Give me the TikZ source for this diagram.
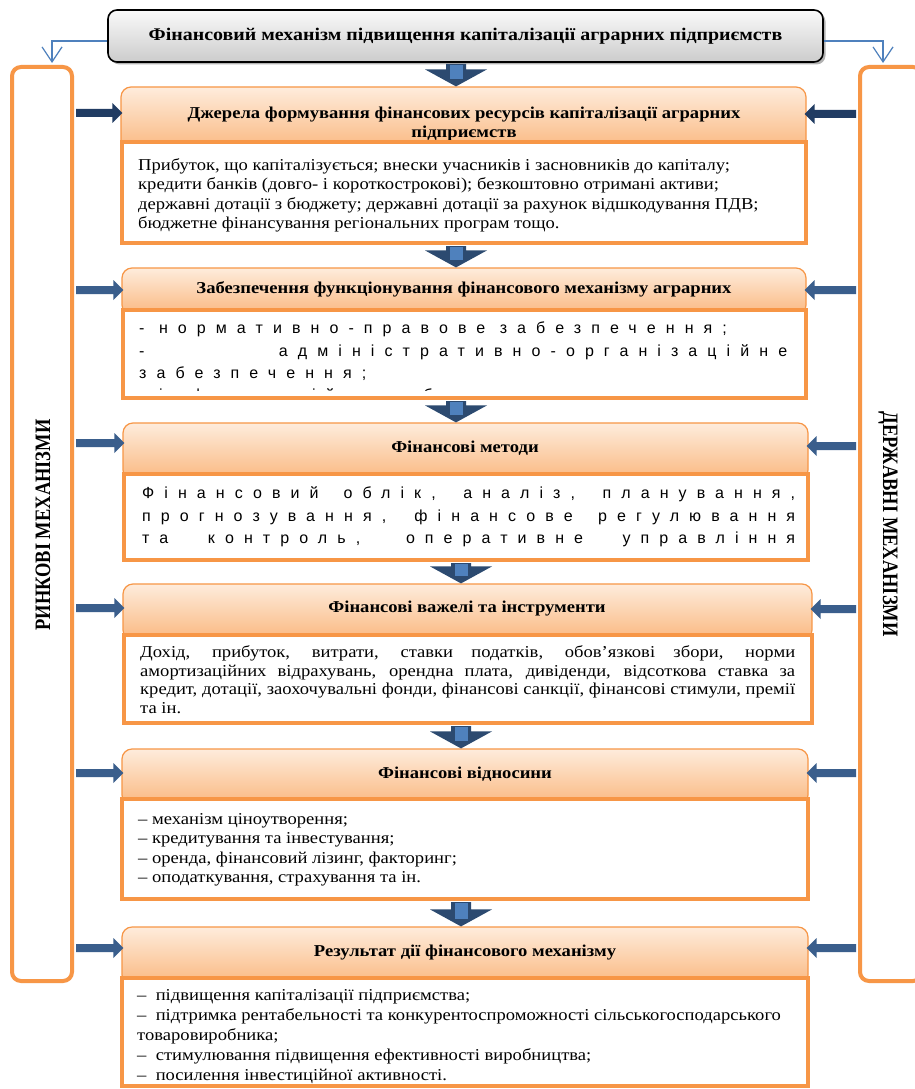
\documentclass[tikz,border=0pt]{standalone}
\usepackage{fontspec}
\setmainfont{Liberation Serif}[FakeStretch=1.12]
\newfontfamily\spfont[LetterSpace=63]{Liberation Sans}
\usepackage{graphicx}
\usetikzlibrary{calc,arrows.meta,shadows}

\definecolor{org}{RGB}{247,150,70}
\definecolor{htop}{RGB}{254,236,220}
\definecolor{hbot}{RGB}{250,184,128}
\definecolor{navy}{RGB}{33,60,99}
\definecolor{steel}{RGB}{58,94,140}
\definecolor{bdark}{RGB}{44,74,112}
\definecolor{blight}{RGB}{79,129,189}
\definecolor{thinblue}{RGB}{79,129,189}

\tikzset{
  hdr/.style={draw=org, line width=1.2pt, rounded corners=10pt, top color=htop, bottom color=hbot},
  cont/.style={draw=org, line width=4pt, fill=white},
  sidebox/.style={draw=org, line width=4pt, rounded corners=9pt, fill=white},
  titlebox/.style={draw=black, line width=1.6pt, rounded corners=9pt, top color=gray!4, bottom color=gray!40,
     drop shadow={shadow xshift=2.5pt, shadow yshift=-2.5pt, fill=gray!75, opacity=0.8}},
  htext/.style={font=\bfseries\fontsize{16.6}{19}\selectfont, align=center, inner sep=0pt},
  btext/.style={font=\fontsize{16.6}{19}\selectfont, anchor=base west, inner sep=0pt},
  stext/.style={font=\spfont\fontsize{16}{18}\selectfont, anchor=base west, inner sep=0pt},
  sidetext/.style={font=\bfseries\fontsize{22}{22}\selectfont, inner sep=0pt},
  thinarrow/.style={draw=thinblue, line width=1.2pt, -{Straight Barb[length=15pt,width=20pt,line width=1.2pt]}}
}

\newcommand\boxat[6]{\node[#6, minimum width={(#4-#2)*1pt}, minimum height={(#5-#3)*1pt}, inner sep=0pt, anchor=center] (#1) at ({(#2+#4)/2},{(#3+#5)/2}) {};}

\newcommand\downarr[4]{%
  \coordinate (#1s) at (#2,0 |- #3.south);
  \coordinate (#1e) at (#2,0 |- #4.north);
  \fill[bdark] ($(#1s)+(-10,1)$) -- ($(#1e)+(-10,-17)$) -- ($(#1e)+(-31,-17)$) -- (#1e) -- ($(#1e)+(31,-17)$) -- ($(#1e)+(10,-17)$) -- ($(#1s)+(10,1)$) -- cycle;
  \fill[blight] ($(#1s)+(-6.5,2)$) rectangle ($(#1e)+(6.5,-7)$);
}
\newcommand\larr[4]{%
  \coordinate (#1s) at (lside.east |- 0,#2);
  \coordinate (#1e) at (#4.west |- 0,#2);
  \fill[#3] ($(#1s)+(2,-4)$) -- ($(#1e)+(-8,-4)$) -- ($(#1e)+(-8,-10)$) -- ($(#1e)+(2,0)$) -- ($(#1e)+(-8,10)$) -- ($(#1e)+(-8,4)$) -- ($(#1s)+(2,4)$) -- cycle;
}
\newcommand\rarr[4]{%
  \coordinate (#1s) at (rside.west |- 0,#2);
  \coordinate (#1e) at (#4.east |- 0,#2);
  \fill[#3] ($(#1s)+(-2,-4)$) -- ($(#1e)+(8,-4)$) -- ($(#1e)+(8,-10)$) -- ($(#1e)+(-2,0)$) -- ($(#1e)+(8,10)$) -- ($(#1e)+(8,4)$) -- ($(#1s)+(-2,4)$) -- cycle;
}

\begin{document}
\begin{tikzpicture}[x=1pt,y=-1pt]
\useasboundingbox (0,0) rectangle (915,1089);
\clip (0,0) rectangle (915,1089);
\fill[white] (0,0) rectangle (915,1089);

% side boxes
\boxat{lside}{12}{67}{72}{981}{sidebox}
\boxat{rside}{860}{67}{922}{981}{sidebox}
\node[sidetext, rotate=90] (ltxt) at (43,525) {\scalebox{0.75}[1]{РИНКОВІ МЕХАНІЗМИ}};
\node[sidetext, rotate=-90] (rtxt) at (888,524) {\scalebox{0.75}[1]{ДЕРЖАВНІ МЕХАНІЗМИ}};

% title
\node[titlebox, minimum width=715pt, minimum height=52pt, inner sep=0pt, font=\bfseries\fontsize{17.8}{19}\selectfont] (title) at (465.5,36) {Фінансовий механізм підвищення капіталізації аграрних підприємств};

\draw[thinarrow] (title.west |- 0,41) -| ($(52,0 |- lside.north)+(0,-2)$);
\draw[thinarrow] (title.east |- 0,41) -| ($(883,0 |- rside.north)+(0,-2)$);

% headers
\boxat{h1}{121}{87}{806}{150}{hdr}
\boxat{h2}{122}{268}{806}{315}{hdr}
\boxat{h3}{123}{423}{808}{480}{hdr}
\boxat{h4}{123}{584}{812}{640}{hdr}
\boxat{h5}{122}{749}{808}{805}{hdr}
\boxat{h6}{122}{927}{808}{985}{hdr}

\node[htext] (h1t) at (464,124.5) {Джерела формування фінансових ресурсів капіталізації аграрних\\підприємств};
\node[htext] (h2t) at (464,289) {Забезпечення функціонування фінансового механізму аграрних};
\node[htext] (h3t) at (465,448) {Фінансові методи};
\node[htext] (h4t) at (467,609) {Фінансові важелі та інструменти};
\node[htext] (h5t) at (465,774) {Фінансові відносини};
\node[htext] (h6t) at (465,953) {Результат дії фінансового механізму};

% content boxes
\boxat{c1}{122}{142}{806}{243}{cont}
\boxat{c2}{123}{310}{806}{398}{cont}
\boxat{c3}{124}{474}{808}{560}{cont}
\boxat{c4}{124}{635}{812}{723}{cont}
\boxat{c5}{122}{799}{808}{899}{cont}
\boxat{c6}{122}{978}{808}{1086}{cont}

% content 1
\node[btext] (c1a) at (138,170) {Прибуток, що капіталізується; внески учасників і засновників до капіталу;};
\node[btext] (c1b) at (138,189.5) {кредити банків (довго- і короткострокові); безкоштовно отримані активи;};
\node[btext] (c1c) at (138,209) {державні дотації з бюджету; державні дотації за рахунок відшкодування ПДВ;};
\node[btext] (c1d) at (138,228.5) {бюджетне фінансування регіональних програм тощо.};

% content 2
\node[stext] (c2a) at (139,333) {- нормативно-правове забезпечення;};
\node[stext] (c2b) at (139,356) {\makebox[648pt][s]{- адміністративно-організаційне}};
\node[stext] (c2c) at (139,378) {забезпечення;};
\begin{scope}
\clip (124,312) rectangle (806,390);
\node[stext] (c2d) at (139,400) {- інформаційне забезпечення;};
\end{scope}

% content 3
\node[stext] (c3a) at (142,498) {\makebox[653pt][s]{Фінансовий облік, аналіз, планування,}};
\node[stext] (c3b) at (142,521) {\makebox[653pt][s]{прогнозування, фінансове регулювання}};
\node[stext] (c3c) at (142,543) {\makebox[653pt][s]{та контроль, оперативне управління}};

% content 4
\node[btext] (c4a) at (140,657.5) {\makebox[655pt][s]{Дохід, прибуток, витрати, ставки податків, обов’язкові збори, норми}};
\node[btext] (c4b) at (140,676) {\makebox[655pt][s]{амортизаційних відрахувань, орендна плата, дивіденди, відсоткова ставка за}};
\node[btext] (c4c) at (140,694.5) {\makebox[655pt][s]{кредит, дотації, заохочувальні фонди, фінансові санкції, фінансові стимули, премії}};
\node[btext] (c4d) at (140,713) {та ін.};

% content 5
\node[btext] (c5a) at (138,824) {– механізм ціноутворення;};
\node[btext] (c5b) at (138,843.5) {– кредитування та інвестування;};
\node[btext] (c5c) at (138,863) {– оренда, фінансовий лізинг, факторинг;};
\node[btext] (c5d) at (138,882.5) {– оподаткування, страхування та ін.};

% content 6
\node[btext] (c6a) at (137,1000) {–\ \ підвищення капіталізації підприємства;};
\node[btext] (c6b) at (137,1020) {–\ \ підтримка рентабельності та конкурентоспроможності сільськогосподарського};
\node[btext] (c6c) at (137,1040) {товаровиробника;};
\node[btext] (c6d) at (137,1060) {–\ \ стимулювання підвищення ефективності виробництва;};
\node[btext] (c6e) at (137,1080) {–\ \ посилення інвестиційної активності.};

% down arrows
\downarr{d0}{456}{title}{h1}
\downarr{d1}{456}{c1}{h2}
\downarr{d2}{456}{c2}{h3}
\downarr{d3}{461}{c3}{h4}
\downarr{d4}{461}{c4}{h5}
\downarr{d5}{461}{c5}{h6}

% side arrows
\larr{l1}{113}{navy}{h1}
\larr{l2}{290}{steel}{h2}
\larr{l3}{443}{steel}{h3}
\larr{l4}{608}{steel}{h4}
\larr{l5}{773}{steel}{h5}
\larr{l6}{948}{steel}{h6}
\rarr{r1}{114}{navy}{h1}
\rarr{r2}{290}{steel}{h2}
\rarr{r3}{446}{steel}{h3}
\rarr{r4}{609}{steel}{h4}
\rarr{r5}{773}{steel}{h5}
\rarr{r6}{948}{steel}{h6}
\end{tikzpicture}
\end{document}
